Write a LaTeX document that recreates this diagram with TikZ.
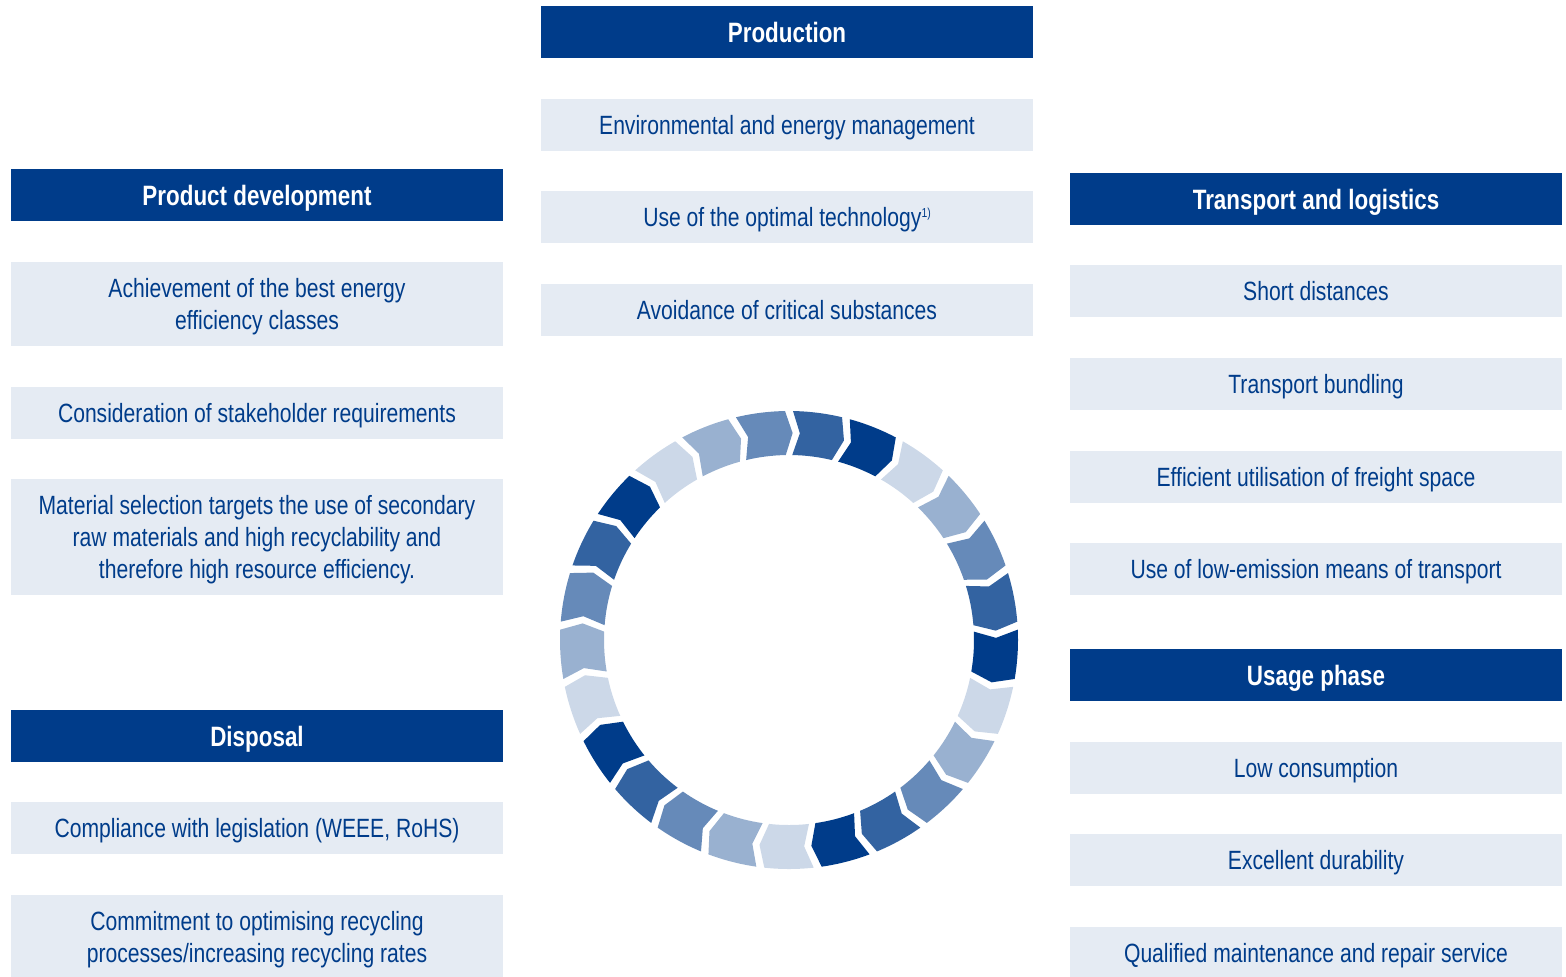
\documentclass[tikz,border=0pt]{standalone}
\usepackage{fontspec}
\setmainfont{Liberation Sans}[FakeStretch=0.8]
\usepackage{tikz}
\definecolor{repblue}{HTML}{003C8A}
\definecolor{repbox}{HTML}{E5EBF3}
\colorlet{ring0}{repblue!60}
\colorlet{ring1}{repblue!80}
\colorlet{ring2}{repblue}
\colorlet{ring3}{repblue!20}
\colorlet{ring4}{repblue!40}

\begin{document}
\begin{tikzpicture}[x=0.5pt,y=-0.5pt,
  head/.style={rectangle,fill=repblue,text=white,
    minimum width=246pt,minimum height=26pt,inner sep=0pt,
    text depth=0pt,font=\fontsize{14}{16}\selectfont\bfseries},
  item/.style={rectangle,fill=repbox,text=repblue,
    minimum width=246pt,minimum height=26pt,inner sep=0pt,
    align=center,text depth=0pt,font=\fontsize{13.2}{16}\selectfont}]

  \useasboundingbox (0,0) rectangle (1566,976);
  \clip (0,0) rectangle (1566,976);

  \node[head] (proddev) at (257,195) {Product development};
  \node[item,minimum height=42pt] (energy) at (257,304) {Achievement of the best energy\\efficiency classes};
  \node[item] (stake) at (257,413) {Consideration of stakeholder requirements};
  \node[item,minimum height=58pt] (material) at (257,537) {Material selection targets the use of secondary\\raw materials and high recyclability and\\therefore high resource efficiency.};
  \node[head] (disposal) at (257,736) {Disposal};
  \node[item] (legal) at (257,828) {Compliance with legislation (WEEE, RoHS)};
  \node[item,minimum height=42pt] (recycle) at (257,937) {Commitment to optimising recycling\\processes/increasing recycling rates};

  \node[head] (production) at (787,32) {Production};
  \node[item] (envman) at (787,125) {Environmental and energy management};
  \node[item] (tech) at (787,217) {Use of the optimal technology\smash{\raisebox{4.6pt}{\fontsize{6.5}{7}\selectfont 1)}}};
  \node[item] (subst) at (787,310) {Avoidance of critical substances};

  \node[head] (transport) at (1316,199) {Transport and logistics};
  \node[item] (short) at (1316,291) {Short distances};
  \node[item] (bundle) at (1316,384) {Transport bundling};
  \node[item] (freight) at (1316,477) {Efficient utilisation of freight space};
  \node[item] (lowem) at (1316,569) {Use of low-emission means of transport};
  \node[head] (usage) at (1316,675) {Usage phase};
  \node[item] (lowcons) at (1316,768) {Low consumption};
  \node[item] (durable) at (1316,860) {Excellent durability};
  \node[item] (repair) at (1316,953) {Qualified maintenance and repair service};

  \begin{scope}[shift={(789,640)}]
    \foreach \k in {0,...,24}{
      \pgfmathsetmacro\aS{104.4-14.4*\k-1}
      \pgfmathsetmacro\aE{104.4-14.4*(\k+1)+1}
      \pgfmathsetmacro\aT{\aE-2}
      \pgfmathsetmacro\aN{\aS-2}
      \pgfmathtruncatemacro\m{mod(\k,5)}
      \fill[ring\m] (\aS:114.5pt) arc[start angle=\aS,end angle=\aE,radius=114.5pt]
        -- (\aT:103.5pt) -- (\aE:92.5pt)
        arc[start angle=\aE,end angle=\aS,radius=92.5pt]
        -- (\aN:103.5pt) -- cycle;
    }
  \end{scope}
\end{tikzpicture}
\end{document}
